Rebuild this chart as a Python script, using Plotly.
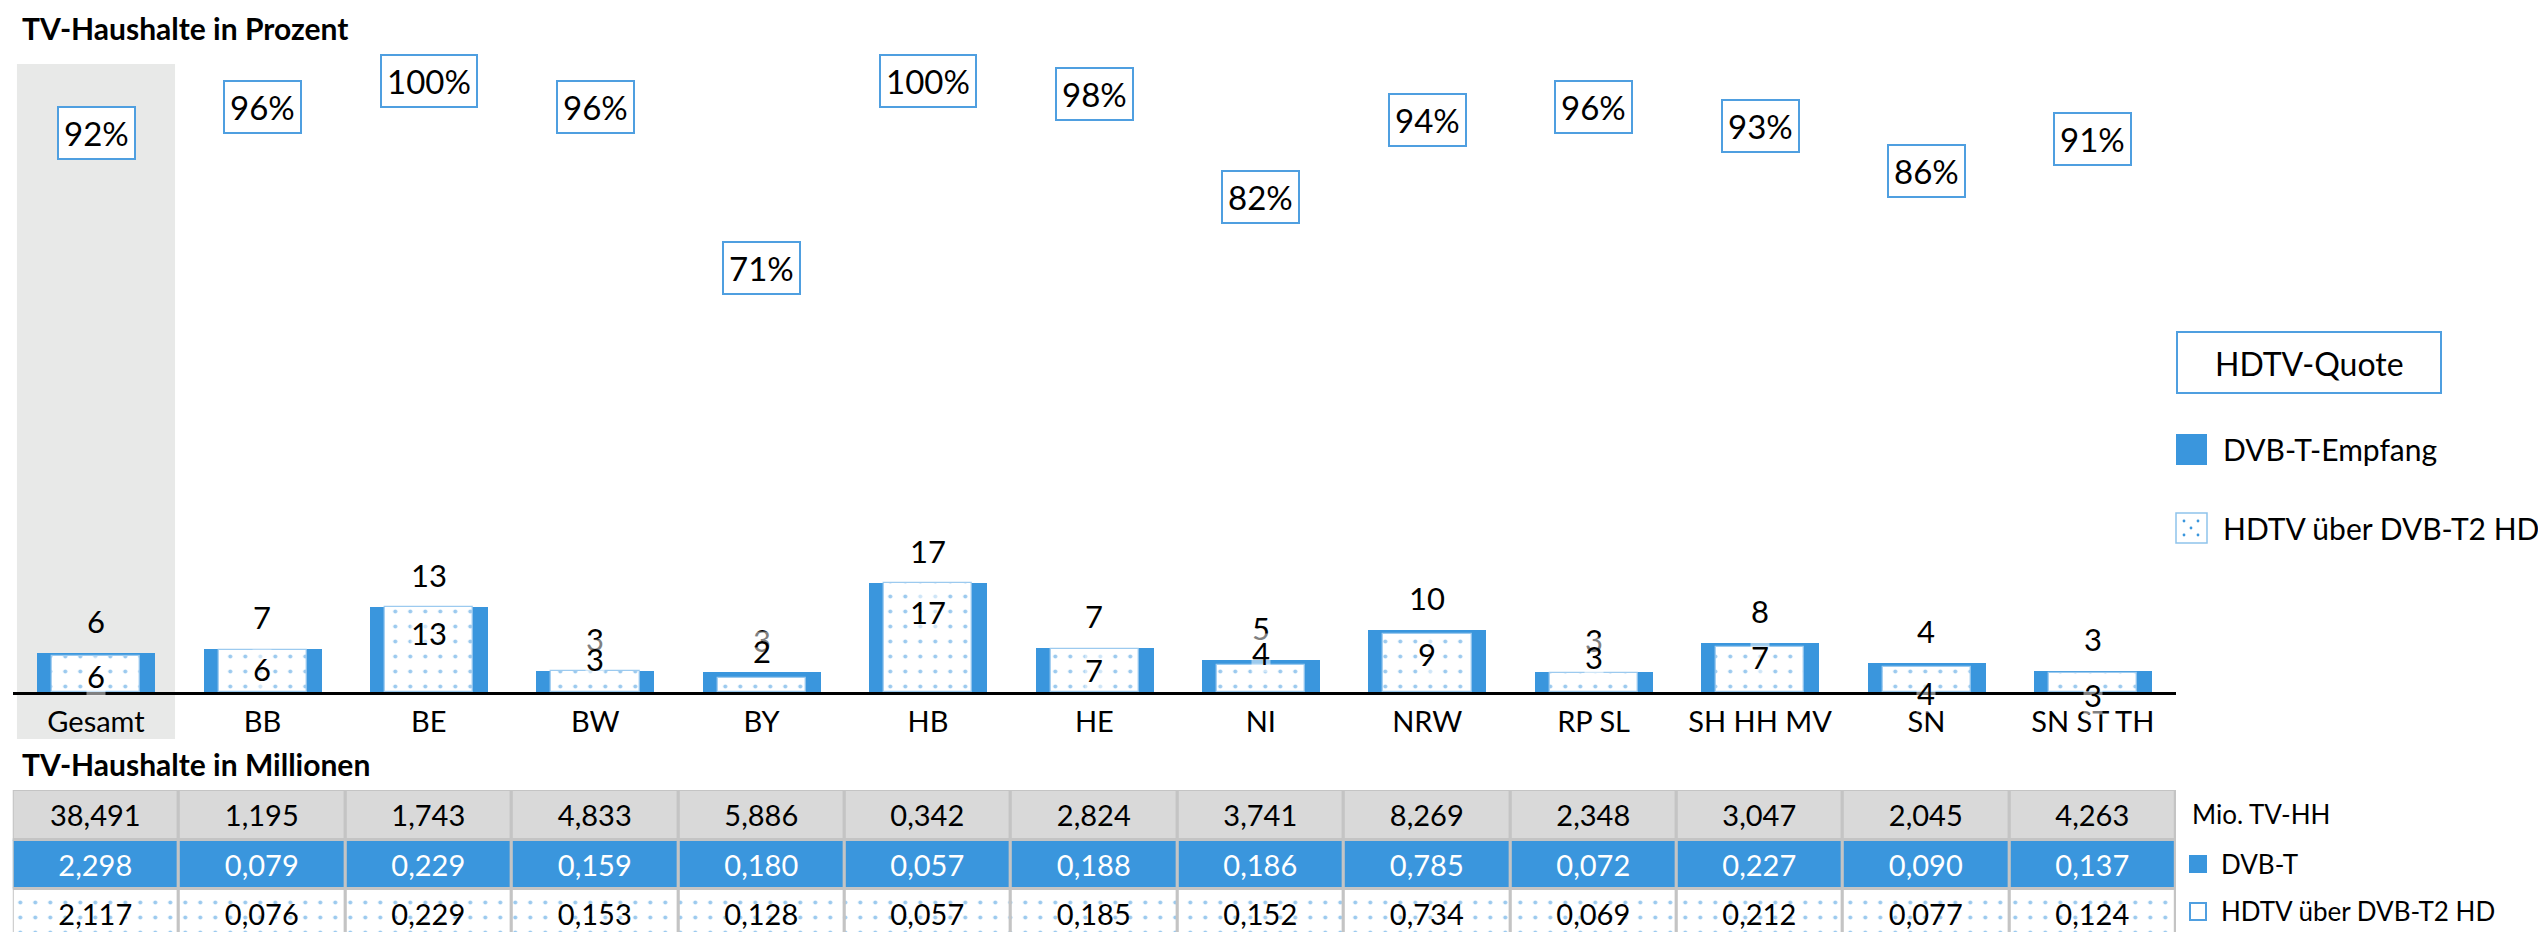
import plotly.graph_objects as go

W, H = 2546, 932

# ---------------- data ----------------
cats = ["Gesamt", "BB", "BE", "BW", "BY", "HB", "HE", "NI", "NRW", "RP SL", "SH HH MV", "SN", "SN ST TH"]
dvbt_pct = [6.0, 6.6, 13.1, 3.3, 3.1, 16.7, 6.7, 5.0, 9.5, 3.1, 7.5, 4.4, 3.2]
hdtv_pct = [5.5, 6.4, 13.1, 3.2, 2.2, 16.7, 6.6, 4.1, 8.9, 2.9, 7.0, 3.8, 2.9]
dvbt_lbl = [6, 7, 13, 3, 3, 17, 7, 5, 10, 3, 8, 4, 3]
hdtv_lbl = [6, 6, 13, 3, 2, 17, 7, 4, 9, 3, 7, 4, 3]
hdtv_quote = [92, 96, 100, 96, 71, 100, 98, 82, 94, 96, 93, 86, 91]
tv_hh = [38.491, 1.195, 1.743, 4.833, 5.886, 0.342, 2.824, 3.741, 8.269, 2.348, 3.047, 2.045, 4.263]
dvbt_mio = [2.298, 0.079, 0.229, 0.159, 0.180, 0.057, 0.188, 0.186, 0.785, 0.072, 0.227, 0.090, 0.137]
hdtv_mio = [2.117, 0.076, 0.229, 0.153, 0.128, 0.057, 0.185, 0.152, 0.734, 0.069, 0.212, 0.077, 0.124]

# ---------------- style ----------------
inner_label_px = [16, 23, 59, 33, 41, 80, 22, 39, 38, 35, 35, -1, -3]
BLUE = "#3a96dd"
LBLUE = "#4f9fe0"
FONT = "Lato"


def px(x):
    return x / W


def py(y):
    return 1 - y / H


x_dom = [px(4.8), px(2168)]
y_dom = [py(684), py(56)]
y_range = [0, (684 - 56) / 6.5]
q_scale = 6.45
y2_range = [(718 - 684) / q_scale, (718 - 56) / q_scale]

fig = go.Figure()

pattern = dict(shape=".", fgcolor=BLUE, bgcolor="white", size=15, solidity=0.06, fillmode="overlay")

fig.add_trace(go.Bar(x=cats, y=dvbt_pct, width=0.71, marker=dict(color=BLUE, line=dict(width=0)),
                     name="DVB-T-Empfang", xaxis="x", yaxis="y"))
fig.add_trace(go.Bar(x=cats, y=hdtv_pct, width=0.53,
                     marker=dict(color="white", pattern=pattern, line=dict(width=1.2, color="#9ccaef")),
                     name="HDTV über DVB-T2 HD", xaxis="x", yaxis="y"))
fig.add_trace(go.Scatter(x=cats, y=hdtv_quote, mode="markers", marker=dict(opacity=0),
                         xaxis="x", yaxis="y2", hoverinfo="skip"))

# table rows
rows = [
    (tv_hh, 2, "#d9d9d9", False, "black"),
    (dvbt_mio, 1, BLUE, False, "white"),
    (hdtv_mio, 0, "white", True, "black"),
]
for vals, base, col, pat, tcol in rows:
    mk = dict(color=col, line=dict(width=3, color="#c4c4c4"))
    if pat:
        mk["pattern"] = dict(shape=".", fgcolor=BLUE, bgcolor="white", size=15, solidity=0.06)
    fig.add_trace(go.Bar(x=cats, y=[1] * len(cats), base=[base] * len(cats), width=1.0,
                         customdata=vals, texttemplate="%{customdata:.3f}",
                         textposition="inside", insidetextanchor="middle", constraintext="none",
                         textangle=0,
                         textfont=dict(family=FONT, size=29, color=tcol),
                         marker=mk, xaxis="x3", yaxis="y3", hoverinfo="skip"))

ann = []
shapes = []

# gray highlight band behind "Gesamt"
shapes.append(dict(type="rect", xref="x", yref="paper", x0=-0.475, x1=0.475, y0=py(731), y1=py(56),
                   fillcolor="#e8e9e8", line=dict(width=0), layer="below"))

# bar value labels
for c, v, l in zip(cats, dvbt_pct, dvbt_lbl):
    ann.append(dict(x=c, y=v, xref="x", yref="y", text=str(l), showarrow=False, yshift=32,
                    yanchor="middle", font=dict(family=FONT, size=31, color="black")))
for c, l, s in zip(cats, hdtv_lbl, inner_label_px):
    ann.append(dict(x=c, y=0, xref="x", yref="y", text=str(l), showarrow=False, yshift=s,
                    yanchor="middle", bgcolor="rgba(255,255,255,0.5)", borderpad=0,
                    font=dict(family=FONT, size=31, color="black")))

# HDTV-Quote boxes
for c, q in zip(cats, hdtv_quote):
    ann.append(dict(x=c, y=q, xref="x", yref="y2", text=f"{q}%", showarrow=False, yanchor="middle",
                    bgcolor="white", bordercolor=LBLUE, borderwidth=2, borderpad=5,
                    font=dict(family=FONT, size=33, color="black")))

# titles
ann.append(dict(x=px(12), y=1, xref="paper", yref="paper", xanchor="left", yanchor="top",
                text="<b>TV-Haushalte in Prozent</b>", showarrow=False,
                font=dict(family=FONT, size=30, color="black")))
ann.append(dict(x=px(12), y=py(756), xref="paper", yref="paper", xanchor="left", yanchor="middle",
                text="<b>TV-Haushalte in Millionen</b>", showarrow=False,
                font=dict(family=FONT, size=30, color="black")))

# legend (right)
shapes.append(dict(type="rect", xref="paper", yref="paper", x0=px(2169), x1=px(2433), y0=py(385), y1=py(324),
                   line=dict(color=LBLUE, width=2), fillcolor="white"))
ann.append(dict(x=px(2301), y=py(355), xref="paper", yref="paper", text="HDTV-Quote", showarrow=False,
                xanchor="center", yanchor="middle", font=dict(family=FONT, size=32, color="black")))
shapes.append(dict(type="rect", xref="paper", yref="paper", x0=px(2168), x1=px(2199), y0=py(457), y1=py(426),
                   line=dict(width=0), fillcolor=BLUE))
ann.append(dict(x=px(2213), y=py(441), xref="paper", yref="paper", text="DVB-T-Empfang", showarrow=False,
                xanchor="left", yanchor="middle", font=dict(family=FONT, size=30, color="black")))
shapes.append(dict(type="rect", xref="paper", yref="paper", x0=px(2168), x1=px(2199), y0=py(535), y1=py(505),
                   line=dict(width=1.5, color="#8fc3ec"), fillcolor="white"))
for dx, dy in [(2176, 513), (2190, 513), (2183, 520), (2176, 527), (2190, 527)]:
    shapes.append(dict(type="circle", xref="paper", yref="paper", x0=px(dx - 1.4), x1=px(dx + 1.4),
                       y0=py(dy + 1.4), y1=py(dy - 1.4), line=dict(width=0), fillcolor=BLUE))
ann.append(dict(x=px(2213), y=py(520), xref="paper", yref="paper", text="HDTV über DVB-T2 HD", showarrow=False,
                xanchor="left", yanchor="middle", font=dict(family=FONT, size=30, color="black")))

# table row labels
ann.append(dict(x=px(2182), y=py(806), xref="paper", yref="paper", text="Mio. TV-HH", showarrow=False,
                xanchor="left", yanchor="middle", font=dict(family=FONT, size=26, color="black")))
shapes.append(dict(type="rect", xref="paper", yref="paper", x0=px(2181), x1=px(2199), y0=py(865), y1=py(847),
                   line=dict(width=0), fillcolor=BLUE))
ann.append(dict(x=px(2211), y=py(856), xref="paper", yref="paper", text="DVB-T", showarrow=False,
                xanchor="left", yanchor="middle", font=dict(family=FONT, size=26, color="black")))
shapes.append(dict(type="rect", xref="paper", yref="paper", x0=px(2182), x1=px(2198), y0=py(912), y1=py(895),
                   line=dict(width=2, color=LBLUE), fillcolor="white"))
ann.append(dict(x=px(2211), y=py(903), xref="paper", yref="paper", text="HDTV über DVB-T2 HD", showarrow=False,
                xanchor="left", yanchor="middle", font=dict(family=FONT, size=26, color="black")))

fig.update_layout(
    width=W, height=H,
    margin=dict(l=0, r=0, t=0, b=0),
    paper_bgcolor="white", plot_bgcolor="rgba(0,0,0,0)",
    barmode="overlay", bargap=0, showlegend=False,
    separators=",.",
    font=dict(family=FONT, color="black"),
    xaxis=dict(domain=x_dom, type="category", range=[-0.5, 12.5], showline=True, linecolor="black",
               linewidth=2.5, ticks="", showgrid=False, zeroline=False, anchor="y",
               tickfont=dict(family=FONT, size=29, color="black"), ticklabelstandoff=2, fixedrange=True),
    yaxis=dict(domain=y_dom, range=y_range, visible=False, anchor="x"),
    yaxis2=dict(domain=y_dom, range=y2_range, visible=False, overlaying="y", anchor="x"),
    xaxis3=dict(domain=x_dom, type="category", range=[-0.5, 12.5], visible=False, anchor="y3"),
    yaxis3=dict(domain=[py(931), py(782)], range=[0, 3], visible=False, anchor="x3"),
    annotations=ann,
    shapes=shapes,
)

fig.write_html("out.html", config=dict(displayModeBar=False))
